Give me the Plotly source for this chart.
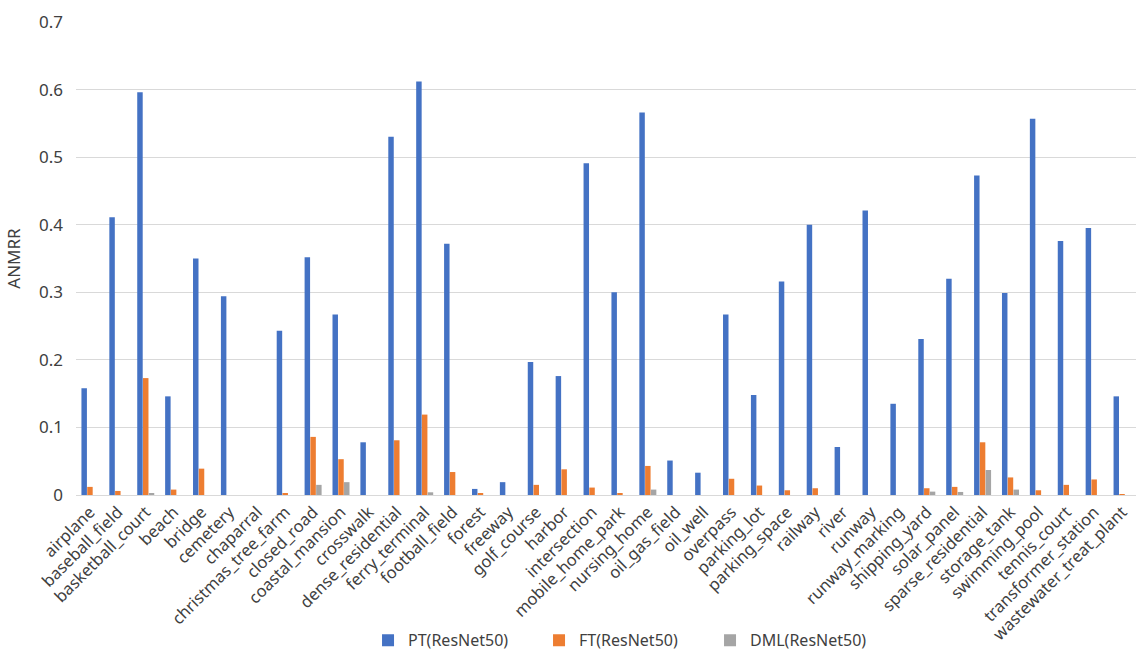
import plotly.graph_objects as go

categories = ["airplane", "baseball_field", "basketball_court", "beach", "bridge", "cemetery",
              "chaparral", "christmas_tree_farm", "closed_road", "coastal_mansion", "crosswalk",
              "dense_residential", "ferry_terminal", "football_field", "forest", "freeway",
              "golf_course", "harbor", "intersection", "mobile_home_park", "nursing_home",
              "oil_gas_field", "oil_well", "overpass", "parking_lot", "parking_space", "railway",
              "river", "runway", "runway_marking", "shipping_yard", "solar_panel",
              "sparse_residential", "storage_tank", "swimming_pool", "tennis_court",
              "transformer_station", "wastewater_treat_plant"]

pt_values = [0.158, 0.411, 0.596, 0.146, 0.350, 0.294, 0.0, 0.243, 0.352, 0.267, 0.078,
             0.530, 0.612, 0.372, 0.009, 0.019, 0.197, 0.176, 0.491, 0.300, 0.566,
             0.051, 0.033, 0.267, 0.148, 0.316, 0.400, 0.071, 0.421, 0.135, 0.231, 0.320,
             0.473, 0.299, 0.557, 0.376, 0.395, 0.146]

ft_values = [0.012, 0.006, 0.173, 0.008, 0.039, 0.0, 0.0, 0.002, 0.086, 0.053, 0.0,
             0.081, 0.119, 0.034, 0.0015, 0.0, 0.015, 0.038, 0.011, 0.003, 0.043,
             0.0, 0.0, 0.024, 0.014, 0.007, 0.010, 0.0, 0.0, 0.0, 0.010, 0.012,
             0.078, 0.026, 0.007, 0.015, 0.023, 0.001]

dml_values = [0.0, 0.0, 0.003, 0.0, 0.0, 0.0, 0.0, 0.0, 0.015, 0.019, 0.0,
              0.0, 0.004, 0.0, 0.0, 0.0, 0.0, 0.0, 0.0, 0.0, 0.008,
              0.0, 0.0, 0.0, 0.0, 0.0, 0.0, 0.0, 0.0, 0.0, 0.005, 0.0045,
              0.037, 0.008, 0.0, 0.0, 0.0, 0.0]

series_names = ["PT(ResNet50)", "FT(ResNet50)", "DML(ResNet50)"]
colors = ["#4472C4", "#ED7D31", "#A5A5A5"]

font_family = "Noto Sans, DejaVu Sans, sans-serif"

fig = go.Figure()
for name, vals, col in zip(series_names, [pt_values, ft_values, dml_values], colors):
    fig.add_trace(go.Bar(x=categories, y=vals, name=name, marker_color=col,
                         marker_line_width=0))

fig.update_layout(
    width=1143, height=658,
    paper_bgcolor="white", plot_bgcolor="white",
    font=dict(family=font_family, color="#404040", size=16),
    barmode="group", bargap=0.38, bargroupgap=0.05,
    margin=dict(l=76, r=7, t=22, b=163, autoexpand=False),
    showlegend=True,
    legend=dict(orientation="h", x=0.2755, xanchor="left",
                yref="container", y=0.027, yanchor="middle",
                bgcolor="rgba(0,0,0,0)",
                font=dict(size=16, color="#404040"), entrywidth=126,
                entrywidthmode="pixels", itemwidth=30, traceorder="normal"),
)
fig.update_yaxes(range=[0, 0.7], dtick=0.1, showgrid=True,
                 gridcolor="#D9D9D9", gridwidth=1, zeroline=False, showline=False,
                 tickfont=dict(size=17, color="#404040"), ticks="", ticklabelstandoff=12,
                 title=dict(text="ANMRR", font=dict(size=17, color="#404040"), standoff=14))
fig.update_xaxes(tickangle=-45, showline=True, linecolor="#D9D9D9", linewidth=1,
                 ticks="", tickfont=dict(size=16.5, color="#404040"), automargin=False)

fig.write_html("out.html")
